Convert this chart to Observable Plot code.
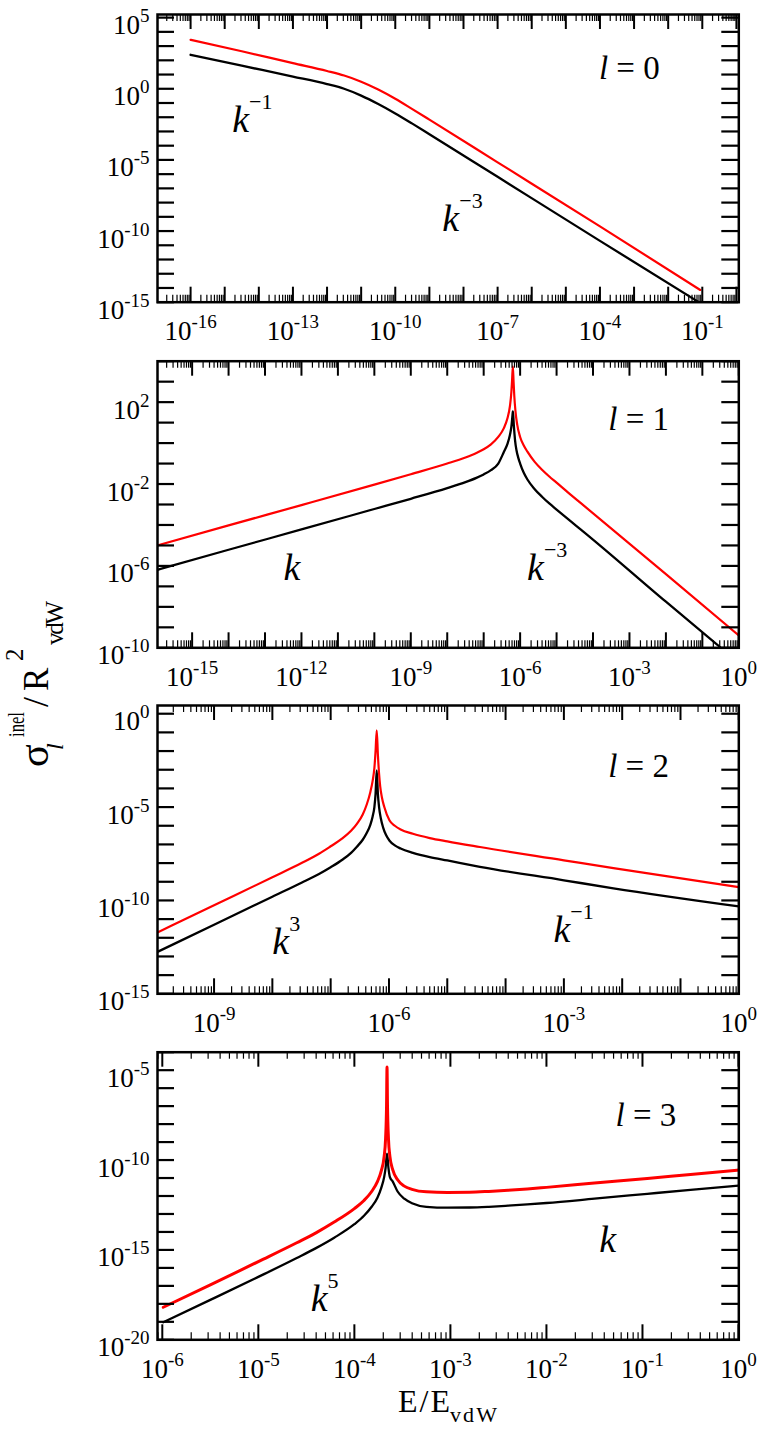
<!DOCTYPE html>
<html><head><meta charset="utf-8">
<script src="https://cdn.jsdelivr.net/npm/d3@7"></script>
<script src="https://cdn.jsdelivr.net/npm/@observablehq/plot@0.6"></script>
<style>
html,body{margin:0;padding:0;background:#fff;}
#wrap{position:relative;width:761px;height:1430px;overflow:hidden;font-family:"Liberation Serif","Times New Roman",serif;}
#wrap svg{position:absolute;left:0;}
#wrap svg, #wrap svg g, #wrap svg text, #wrap svg tspan{font-family:"Liberation Serif","Times New Roman",serif !important;}
</style></head><body><div id="wrap"></div>
<script>
// ---------- data (log10 values) ----------
// l = 0
const l0RedLogE   = [-16, -14.5, -13, -12, -11.5, -11, -10.5, -10, -9.5, -9, -7, -4, -1.06];
const l0RedLogS   = [3.44, 2.64, 1.8, 1.25, 0.93, 0.5, -0.05, -0.7, -1.43, -2.17, -5.17, -9.67, -14.14];
const l0BlackLogE = [-16, -14.5, -13, -12, -11.5, -11, -10.5, -10, -9.5, -9, -7, -4, -1.1];
const l0BlackLogS = [2.39, 1.62, 0.86, 0.33, 0.0, -0.48, -1.07, -1.73, -2.45, -3.19, -6.19, -10.69, -15.0];
// l = 1
const l1RedLogE   = [-15.95, -14, -12, -10, -9, -8, -7.5, -7.2, -7.0, -6.8, -6.6, -6.45, -6.35, -6.28, -6.24, -6.22, -6.2,
                     -6.18, -6.16, -6.13, -6.08, -6.0, -5.9, -5.8, -5.6, -5.4, -5.2, -5.0, -4.6, -4.35, -2, 0];
const l1RedLogS   = [-5.0, -4.02, -3.03, -2.03, -1.52, -1.0, -0.7, -0.48, -0.3, -0.06, 0.3, 0.72, 1.2, 1.8, 2.5, 3.1, 3.75,
                     3.0, 2.3, 1.6, 0.9, 0.3, -0.12, -0.42, -0.92, -1.3, -1.63, -1.93, -2.54, -2.91, -6.4, -9.4];
const l1BlackLogE = [-15.95, -14, -12, -10, -9, -8, -7.5, -7.2, -7.0, -6.8, -6.6, -6.45, -6.35, -6.28, -6.24, -6.21, -6.2,
                     -6.19, -6.17, -6.14, -6.1, -6.05, -6.0, -5.9, -5.8, -5.6, -5.4, -5.2, -5.0, -4.6, -4.35, -2, -0.49];
const l1BlackLogS = [-6.19, -5.21, -4.22, -3.22, -2.72, -2.2, -1.91, -1.7, -1.53, -1.32, -1.0, -0.45, -0.05, 0.4, 0.8, 1.35, 1.55,
                     1.35, 0.8, 0.15, -0.35, -0.72, -1.0, -1.45, -1.78, -2.25, -2.62, -2.95, -3.25, -3.84, -4.2, -7.75, -10.0];
// l = 2
const l2RedLogE   = [-9.98, -9, -8, -7.5, -7.2, -7.0, -6.8, -6.65, -6.55, -6.45, -6.38, -6.32, -6.28, -6.25, -6.23, -6.21,
                     -6.19, -6.17, -6.15, -6.12, -6.08, -5.99, -5.9, -5.8, -5.59, -5.3, -5.0, -4.44, -3, -2.15, 0];
const l2RedLogS   = [-11.73, -10.26, -8.76, -8.0, -7.5, -7.1, -6.68, -6.27, -5.9, -5.4, -4.85, -4.2, -3.6, -2.9, -2.0, -0.89,
                     -2.2, -3.2, -3.9, -4.5, -5.0, -5.72, -6.0, -6.2, -6.43, -6.66, -6.84, -7.14, -7.85, -8.27, -9.29];
const l2BlackLogE = [-9.98, -9, -8, -7.5, -7.2, -7.0, -6.8, -6.65, -6.55, -6.45, -6.38, -6.32, -6.28, -6.25, -6.23, -6.21,
                     -6.19, -6.17, -6.14, -6.1, -6.05, -5.99, -5.9, -5.8, -5.59, -5.3, -5.0, -4.44, -3, -2.15, 0];
const l2BlackLogS = [-12.77, -11.3, -9.8, -9.05, -8.58, -8.22, -7.82, -7.45, -7.12, -6.75, -6.38, -5.95, -5.5, -5.0, -4.3, -3.04,
                     -4.3, -5.0, -5.6, -6.1, -6.5, -6.8, -7.05, -7.22, -7.45, -7.68, -7.86, -8.2, -8.92, -9.35, -10.32];
// l = 3
const l3RedLogE   = [-5.99, -5.5, -5.0, -4.6, -4.4, -4.21, -4.0, -3.9, -3.82, -3.76, -3.72, -3.69, -3.675, -3.665, -3.66,
                     -3.655, -3.645, -3.63, -3.6, -3.55, -3.48, -3.4, -3.25, -3.03, -2.8, -2.6, -2.4, -2.2, -2.0, -1.5, -0.95, -0.5, 0];
const l3RedLogS   = [-18.19, -16.95, -15.65, -14.6, -14.05, -13.45, -12.7, -12.25, -11.75, -11.2, -10.6, -9.8, -8.8, -7.0, -4.83,
                     -7.0, -8.8, -9.8, -10.55, -11.1, -11.45, -11.63, -11.77, -11.8, -11.79, -11.745, -11.685, -11.61, -11.52, -11.28, -11.02, -10.8, -10.56];
const l3BlackLogE = [-5.99, -5.5, -5.0, -4.6, -4.4, -4.21, -4.0, -3.9, -3.82, -3.76, -3.72, -3.69, -3.675, -3.66,
                     -3.645, -3.63, -3.6, -3.55, -3.48, -3.4, -3.25, -3.03, -2.8, -2.6, -2.4, -2.2, -2.0, -1.5, -0.95, -0.5, 0];
const l3BlackLogS = [-19.02, -17.78, -16.5, -15.45, -14.9, -14.32, -13.57, -13.1, -12.6, -12.1, -11.55, -10.95, -10.45, -9.65,
                     -10.45, -10.95, -11.2, -11.75, -12.15, -12.4, -12.6, -12.65, -12.64, -12.6, -12.54, -12.47, -12.39, -12.15, -11.88, -11.66, -11.42];

// tick label exponents
const l0XTicks = [-16, -13, -10, -7, -4, -1];
const l0YTicks = [5, 0, -5, -10, -15];
const l1XTicks = [-15, -12, -9, -6, -3, 0];
const l1YTicks = [2, -2, -6, -10];
const l2XTicks = [-9, -6, -3, 0];
const l2YTicks = [0, -5, -10, -15];
const l3XTicks = [-6, -5, -4, -3, -2, -1, 0];
const l3YTicks = [-5, -10, -15, -20];

// text labels (anchored in log10 data units)
const l0Notes = [{t: "k^\u22121", e: -14.78, s: -3.06}, {t: "k^\u22123", e: -8.62, s: -9.97}];
const l1Notes = [{t: "k", e: -12.49, s: -6.71}, {t: "k^\u22123", e: -5.81, s: -6.71}];
const l2Notes = [{t: "k^3", e: -8.0, s: -12.86}, {t: "k^\u22121", e: -3.18, s: -12.24}];
const l3Notes = [{t: "k^5", e: -4.455, s: -18.37}, {t: "k", e: -1.45, s: -15.13}];
const partialWaves = [
  {t: "l = 0", e: -4.03, s: 0.72},
  {t: "l = 1", e: -3.58, s: 0.65},
  {t: "l = 2", e: -2.24, s: -3.4},
  {t: "l = 3", e: -1.28, s: -8.08}
];

// ---------- layout ----------
const panels = [
  {top: 0,    height: 345, mt: 14,   mb: 43.3, xDom: [-16.97, 0.07], yDom: [-15, 5.22],
   red: [l0RedLogE, l0RedLogS], black: [l0BlackLogE, l0BlackLogS], redW: 2.2,
   xt: l0XTicks, yt: l0YTicks, notes: l0Notes, tag: partialWaves[0]},
  {top: 345,  height: 345, mt: 15.7, mb: 42.7, xDom: [-15.95, 0], yDom: [-10, 4],
   red: [l1RedLogE, l1RedLogS], black: [l1BlackLogE, l1BlackLogS], redW: 2.2,
   xt: l1XTicks, yt: l1YTicks, notes: l1Notes, tag: partialWaves[1]},
  {top: 690,  height: 345, mt: 15,   mb: 41.7, xDom: [-9.97, 0], yDom: [-15, 0.44],
   red: [l2RedLogE, l2RedLogS], black: [l2BlackLogE, l2BlackLogS], redW: 2.2,
   xt: l2XTicks, yt: l2YTicks, notes: l2Notes, tag: partialWaves[2]},
  {top: 1035, height: 395, mt: 16.7, mb: 90.7, xDom: [-6.05, 0.003], yDom: [-20, -4],
   red: [l3RedLogE, l3RedLogS], black: [l3BlackLogE, l3BlackLogS], redW: 3,
   xt: l3XTicks, yt: l3YTicks, notes: l3Notes, tag: partialWaves[3]}
];

const NS = "http://www.w3.org/2000/svg";
const FONT = '"Liberation Serif","Times New Roman",serif';
const W = 761, ML = 157, MR = 22.7;

function rich(svg) {
  svg.querySelectorAll("text").forEach(t => {
    let s = t.textContent;
    const mode = s[0];
    if (!"XYKL".includes(mode)) return;
    s = s.slice(1);
    while (t.firstChild) t.removeChild(t.firstChild);
    const add = (txt, attrs) => {
      const sp = document.createElementNS(NS, "tspan");
      sp.textContent = txt;
      for (const k in attrs) sp.setAttribute(k, attrs[k]);
      t.appendChild(sp);
    };
    if (mode === "X" || mode === "Y") {
      const [b, e] = s.split("^");
      add(b, {});
      add(e, {"font-size": 19, dy: -12});
      t.removeAttribute("dy");
      t.setAttribute("y", mode === "X" ? 38 : 16.5);
    } else if (mode === "K") {
      const [b, e] = s.split("^");
      add(b, {"font-style": "italic"});
      if (e) add(e, {"font-size": 22, dy: -23, "font-style": "normal"});
    } else {
      add(s.slice(0, 1), {"font-style": "italic"});
      add(s.slice(1), {});
    }
  });
}

function makePanel(p) {
  const fh = p.height - p.mt - p.mb;
  const fw = W - ML - MR;
  const [x0, x1] = p.xDom, [y0, y1] = p.yDom;
  const xMaj = [], xMin = [];
  for (let d = Math.floor(x0); d <= Math.ceil(x1); d++) {
    for (let m = 1; m <= 9; m++) {
      const v = m * Math.pow(10, d), lv = Math.log10(v);
      if (lv >= x0 - 1e-9 && lv <= x1 + 1e-9) (m === 1 ? xMaj : xMin).push(v);
    }
  }
  const yMaj = [];
  for (let d = Math.ceil(y0); d <= Math.floor(y1); d++) yMaj.push(Math.pow(10, d));
  const pts = ([e, s]) => e.map((v, i) => ({x: Math.pow(10, v), y: Math.pow(10, s[i])}));

  const svg = Plot.plot({
    width: W, height: p.height,
    marginTop: p.mt, marginBottom: p.mb, marginLeft: ML, marginRight: MR,
    style: {fontFamily: FONT, background: "transparent", overflow: "visible"},
    x: {type: "log", domain: [Math.pow(10, x0), Math.pow(10, x1)], label: null},
    y: {type: "log", domain: [Math.pow(10, y0), Math.pow(10, y1)], label: null},
    marks: [
      Plot.line(pts(p.black), {x: "x", y: "y", stroke: "#000", strokeWidth: 2.3, curve: "monotone-x", clip: true}),
      Plot.line(pts(p.red), {x: "x", y: "y", stroke: "#ff0000", strokeWidth: p.redW, curve: "monotone-x", clip: true}),
      Plot.tickX(xMaj, {x: d => d, insetTop: fh - 15, strokeWidth: 2}),
      Plot.tickX(xMaj, {x: d => d, insetBottom: fh - 15, strokeWidth: 2}),
      Plot.tickX(xMin, {x: d => d, insetTop: fh - 7, strokeWidth: 1.2}),
      Plot.tickX(xMin, {x: d => d, insetBottom: fh - 7, strokeWidth: 1.2}),
      Plot.tickY(yMaj, {y: d => d, insetRight: fw - 17, strokeWidth: 2.2}),
      Plot.tickY(yMaj, {y: d => d, insetLeft: fw - 17, strokeWidth: 2.2}),
      Plot.frame({stroke: "#000", strokeWidth: 2.5}),
      Plot.axisX({ticks: p.xt.map(e => Math.pow(10, e)), tickSize: 0, tickPadding: 0, label: null,
        fontSize: 27, tickFormat: v => "X10^" + Math.round(Math.log10(v))}),
      Plot.axisY({ticks: p.yt.map(e => Math.pow(10, e)), anchor: "left", tickSize: 0, tickPadding: 8, label: null,
        fontSize: 27, tickFormat: v => "Y10^" + Math.round(Math.log10(v))}),
      Plot.text(p.notes, {x: d => Math.pow(10, d.e), y: d => Math.pow(10, d.s), text: d => "K" + d.t,
        textAnchor: "start", lineAnchor: "bottom", fontSize: 38}),
      Plot.text([p.tag], {x: d => Math.pow(10, d.e), y: d => Math.pow(10, d.s), text: d => "L" + d.t,
        textAnchor: "start", lineAnchor: "bottom", fontSize: 33})
    ]
  });
  rich(svg);
  svg.style.position = "absolute";
  svg.style.top = p.top + "px";
  svg.style.left = "0px";
  return svg;
}

const wrap = document.getElementById("wrap");
panels.forEach(p => wrap.appendChild(makePanel(p)));

// ---------- axis titles ----------
const ov = document.createElementNS(NS, "svg");
ov.setAttribute("width", W); ov.setAttribute("height", 1430);
ov.style.position = "absolute"; ov.style.top = "0px"; ov.style.left = "0px";
ov.style.pointerEvents = "none";
ov.setAttribute("font-family", FONT);
function part(parent, txt, attrs) {
  const e = document.createElementNS(NS, "text");
  e.textContent = txt;
  for (const k in attrs) e.setAttribute(k, attrs[k]);
  parent.appendChild(e);
  return e;
}
// x title
part(ov, "E/E", {x: 398, y: 1412, "font-size": 32, textLength: 52, lengthAdjust: "spacing"});
part(ov, "vdW", {x: 450, y: 1422, "font-size": 22, textLength: 47, lengthAdjust: "spacing"});
// y title (rotated)
const g = document.createElementNS(NS, "g");
g.setAttribute("transform", "translate(48,767) rotate(-90)");
ov.appendChild(g);
part(g, "\u03c3", {x: 0, y: 0, "font-size": 42});
part(g, "l", {x: 17, y: 15, "font-size": 24, "font-style": "italic"});
part(g, "inel", {x: 30, y: -24, "font-size": 24, textLength: 25, lengthAdjust: "spacingAndGlyphs"});
part(g, "/", {x: 60, y: 0, "font-size": 36});
part(g, "R", {x: 76, y: 0, "font-size": 35});
part(g, "2", {x: 106, y: -25, "font-size": 25});
part(g, "vdW", {x: 122, y: 15, "font-size": 25, textLength: 44, lengthAdjust: "spacing"});
wrap.appendChild(ov);
</script></body></html>
